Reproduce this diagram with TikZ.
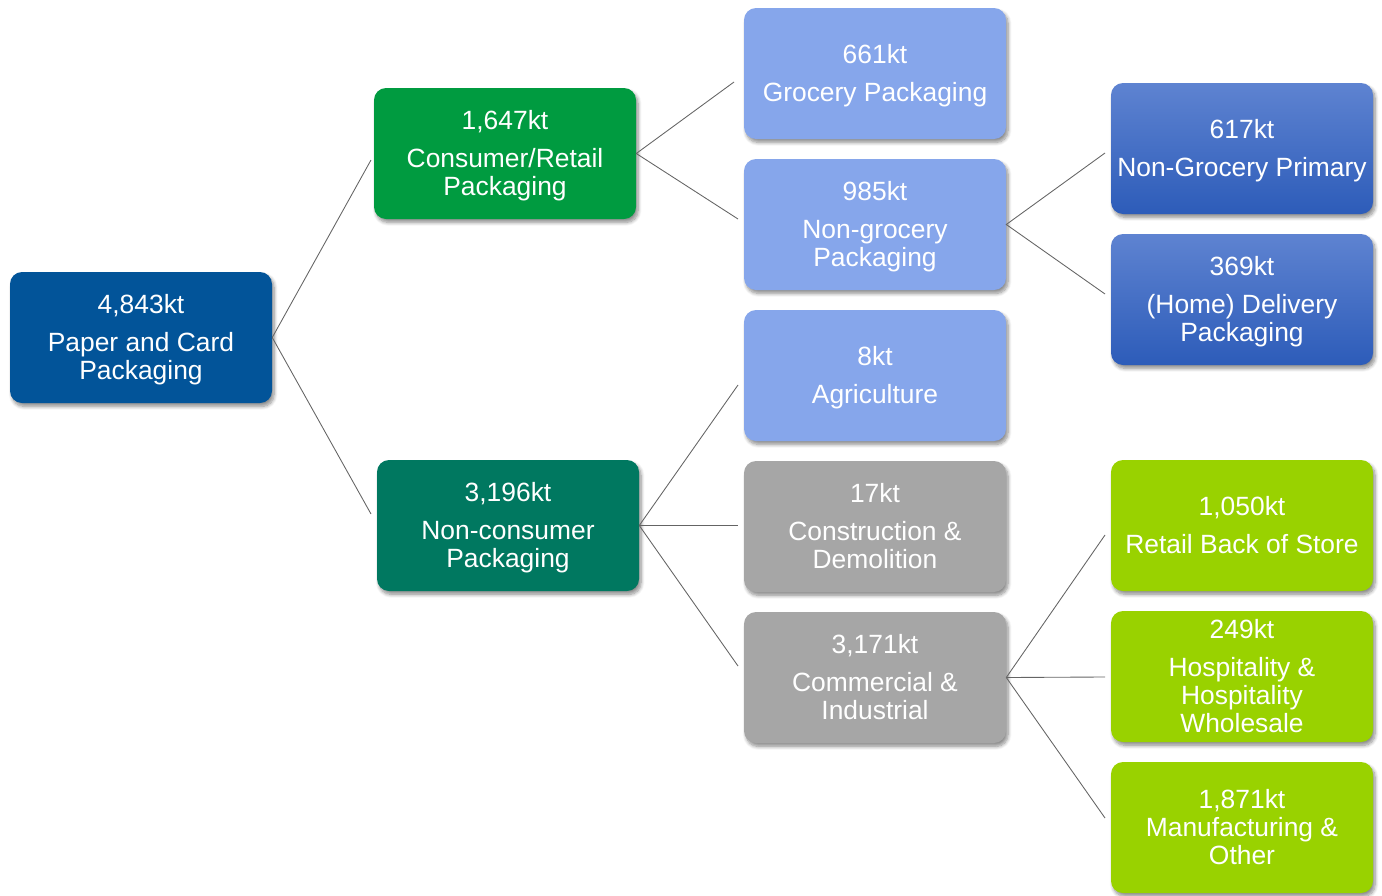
\documentclass[tikz,border=0pt]{standalone}
\usepackage{fontspec}
\setmainfont{Liberation Sans}
\usetikzlibrary{shadows.blur}

\definecolor{rootblue}{RGB}{2,84,153}
\definecolor{retailgreen}{RGB}{0,155,64}
\definecolor{nonconteal}{RGB}{0,120,96}
\definecolor{paleblue}{RGB}{134,166,235}
\definecolor{midgray}{RGB}{166,166,166}
\definecolor{limegreen}{RGB}{153,210,0}
\definecolor{deepbluetop}{RGB}{94,131,209}
\definecolor{deepbluebot}{RGB}{45,92,185}
\definecolor{linkgray}{RGB}{100,100,100}

% a strut that lowers the text block slightly inside its box
\newcommand\headstrut{\rule{0pt}{17.3pt}}
% amount + label, with a little extra space under the amount
\newcommand\amountlabel[2]{\headstrut#1\\[7.5pt]#2\vphantom{g}}

\tikzset{
  box/.style={rounded corners=9pt, minimum width=196.5pt, minimum height=98.25pt,
    inner sep=0pt, align=center, text=white,
    font=\fontsize{19.8}{21}\selectfont,
    blur shadow={shadow xshift=1.6pt, shadow yshift=-2.6pt,
      shadow blur radius=2.6pt, shadow blur steps=8, shadow opacity=45}},
  rootbox/.style={box, fill=rootblue},
  retailbox/.style={box, fill=retailgreen},
  nonconbox/.style={box, fill=nonconteal},
  palebox/.style={box, fill=paleblue},
  graybox/.style={box, fill=midgray},
  deepbox/.style={box, top color=deepbluetop, bottom color=deepbluebot},
  limebox/.style={box, fill=limegreen},
  link/.style={draw=linkgray, line width=0.65pt}
}

\begin{document}
\begin{tikzpicture}[x=0.75pt, y=-0.75pt]
\useasboundingbox (0,0) rectangle (1382,896);

% level 1
\node[rootbox] (root) at (141,337.5) {\amountlabel{4,843kt}{Paper and Card\\Packaging}};

% level 2
\node[retailbox] (cons) at (505,153.5) {\amountlabel{1,647kt}{Consumer/Retail\\Packaging}};
\node[nonconbox] (noncons) at (508,525.5) {\amountlabel{3,196kt}{Non-consumer\\Packaging}};

% level 3
\node[palebox] (groc) at (875,73.5) {\amountlabel{661kt}{Grocery Packaging}};
\node[palebox] (nongroc) at (875,224.5) {\amountlabel{985kt}{Non-grocery\\Packaging}};
\node[palebox] (agri) at (875,375.5) {\amountlabel{8kt}{Agriculture}};
\node[graybox] (constr) at (875,526.5) {\amountlabel{17kt}{Construction \&\\Demolition}};
\node[graybox] (comm) at (875,677.5) {\amountlabel{3,171kt}{Commercial \&\\Industrial}};

% level 4
\node[deepbox] (prim) at (1242,148.5) {\amountlabel{617kt}{Non-Grocery Primary}};
\node[deepbox] (deliv) at (1242,299.5) {\amountlabel{369kt}{(Home) Delivery\\Packaging}};
\node[limebox] (backstore) at (1242,525.5) {\amountlabel{1,050kt}{Retail Back of Store}};
\node[limebox] (hosp) at (1242,676.5) {\amountlabel{249kt}{Hospitality \&\\Hospitality\\Wholesale}};
\node[limebox] (manuf) at (1242,827.5) {\headstrut 1,871kt\\Manufacturing \&\\Other\vphantom{g}};

% connector ends, just left of each child
\coordinate (toCons) at (371,160);
\coordinate (toNoncons) at (371,514);
\coordinate (toGroc) at (734,82);
\coordinate (toNongroc) at (738,219);
\coordinate (toAgri) at (738,385);
\coordinate (toConstr) at (738,525.5);
\coordinate (toComm) at (738,666);
\coordinate (toPrim) at (1105,153);
\coordinate (toDeliv) at (1105,294);
\coordinate (toBack) at (1105,535);
\coordinate (toHosp) at (1105,677);
\coordinate (toManuf) at (1105,818);

\draw[link] (toCons) -- (root.east) -- (toNoncons);
\draw[link] (toGroc) -- (cons.east) -- (toNongroc);
\draw[link] (noncons.east) -- (toAgri);
\draw[link] (noncons.east) -- (toConstr);
\draw[link] (noncons.east) -- (toComm);
\draw[link] (toPrim) -- (nongroc.east) -- (toDeliv);
\draw[link] (comm.east) -- (toBack);
\draw[link] (comm.east) -- (toHosp);
\draw[link] (comm.east) -- (toManuf);
\end{tikzpicture}
\end{document}
